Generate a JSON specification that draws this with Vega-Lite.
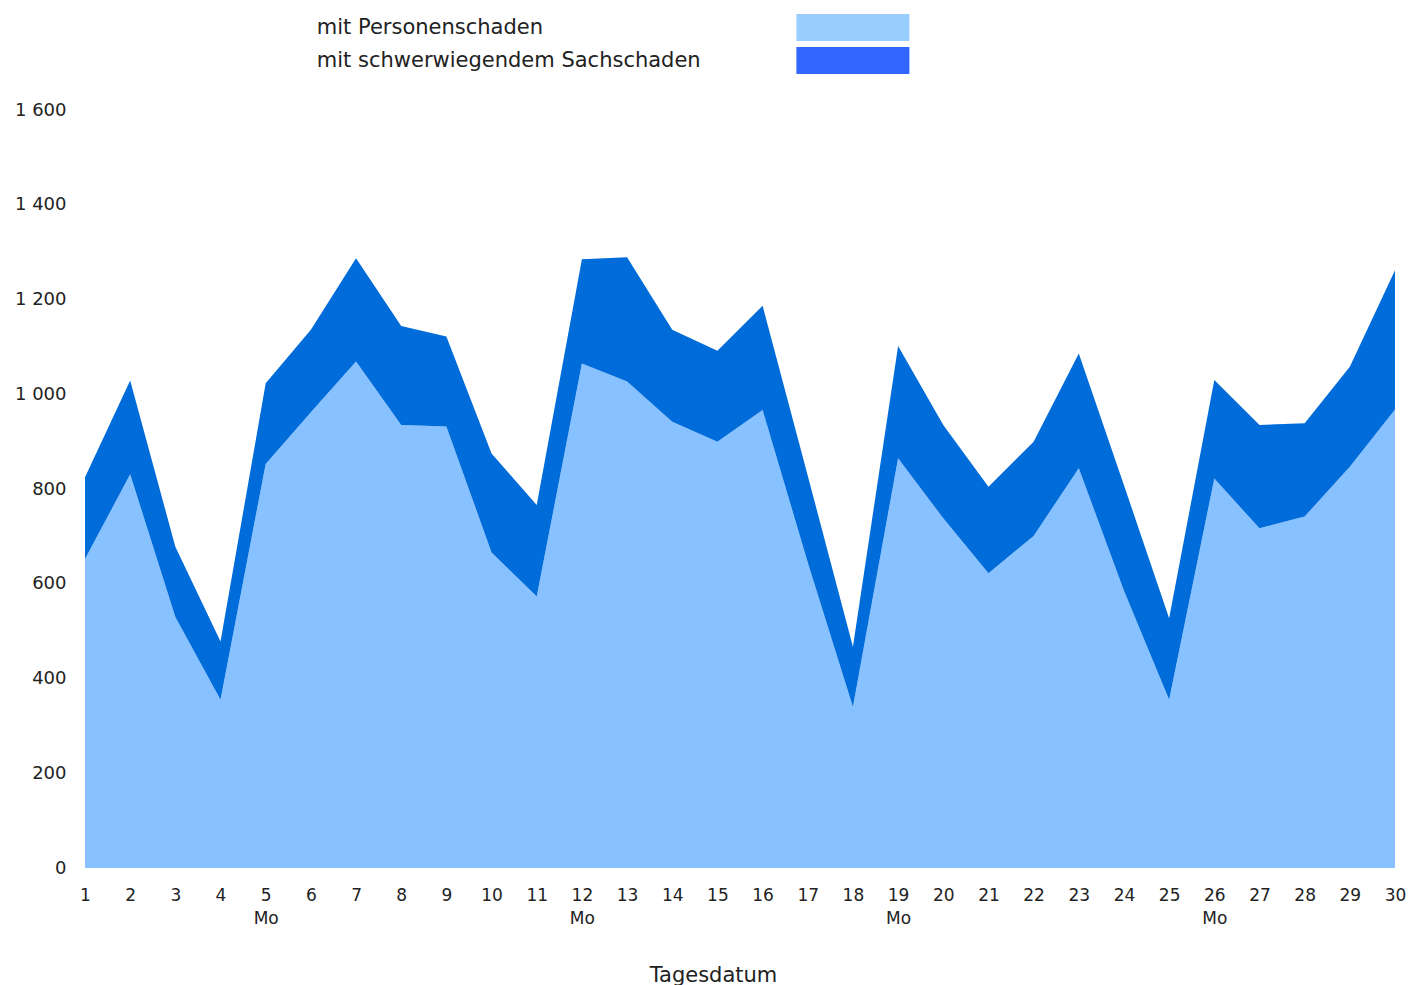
{
  "$schema": "https://vega.github.io/schema/vega-lite/v6.json",
  "autosize": {"type": "none"},
  "width": 1310,
  "height": 758,
  "padding": {"left": 85, "top": 110, "right": 15, "bottom": 117},
  "background": "white",
  "config": {"view": {"stroke": null}},
  "data": {
    "values": [
      {"tag": 1, "art": "mit Personenschaden", "ord": 1, "anzahl": 652},
      {"tag": 1, "art": "mit schwerwiegendem Sachschaden", "ord": 2, "anzahl": 173},
      {"tag": 2, "art": "mit Personenschaden", "ord": 1, "anzahl": 831},
      {"tag": 2, "art": "mit schwerwiegendem Sachschaden", "ord": 2, "anzahl": 198},
      {"tag": 3, "art": "mit Personenschaden", "ord": 1, "anzahl": 530},
      {"tag": 3, "art": "mit schwerwiegendem Sachschaden", "ord": 2, "anzahl": 148},
      {"tag": 4, "art": "mit Personenschaden", "ord": 1, "anzahl": 355},
      {"tag": 4, "art": "mit schwerwiegendem Sachschaden", "ord": 2, "anzahl": 123},
      {"tag": 5, "art": "mit Personenschaden", "ord": 1, "anzahl": 853},
      {"tag": 5, "art": "mit schwerwiegendem Sachschaden", "ord": 2, "anzahl": 170},
      {"tag": 6, "art": "mit Personenschaden", "ord": 1, "anzahl": 962},
      {"tag": 6, "art": "mit schwerwiegendem Sachschaden", "ord": 2, "anzahl": 174},
      {"tag": 7, "art": "mit Personenschaden", "ord": 1, "anzahl": 1069},
      {"tag": 7, "art": "mit schwerwiegendem Sachschaden", "ord": 2, "anzahl": 218},
      {"tag": 8, "art": "mit Personenschaden", "ord": 1, "anzahl": 935},
      {"tag": 8, "art": "mit schwerwiegendem Sachschaden", "ord": 2, "anzahl": 209},
      {"tag": 9, "art": "mit Personenschaden", "ord": 1, "anzahl": 932},
      {"tag": 9, "art": "mit schwerwiegendem Sachschaden", "ord": 2, "anzahl": 190},
      {"tag": 10, "art": "mit Personenschaden", "ord": 1, "anzahl": 666},
      {"tag": 10, "art": "mit schwerwiegendem Sachschaden", "ord": 2, "anzahl": 209},
      {"tag": 11, "art": "mit Personenschaden", "ord": 1, "anzahl": 573},
      {"tag": 11, "art": "mit schwerwiegendem Sachschaden", "ord": 2, "anzahl": 193},
      {"tag": 12, "art": "mit Personenschaden", "ord": 1, "anzahl": 1065},
      {"tag": 12, "art": "mit schwerwiegendem Sachschaden", "ord": 2, "anzahl": 220},
      {"tag": 13, "art": "mit Personenschaden", "ord": 1, "anzahl": 1027},
      {"tag": 13, "art": "mit schwerwiegendem Sachschaden", "ord": 2, "anzahl": 262},
      {"tag": 14, "art": "mit Personenschaden", "ord": 1, "anzahl": 942},
      {"tag": 14, "art": "mit schwerwiegendem Sachschaden", "ord": 2, "anzahl": 194},
      {"tag": 15, "art": "mit Personenschaden", "ord": 1, "anzahl": 900},
      {"tag": 15, "art": "mit schwerwiegendem Sachschaden", "ord": 2, "anzahl": 192},
      {"tag": 16, "art": "mit Personenschaden", "ord": 1, "anzahl": 967},
      {"tag": 16, "art": "mit schwerwiegendem Sachschaden", "ord": 2, "anzahl": 220},
      {"tag": 17, "art": "mit Personenschaden", "ord": 1, "anzahl": 645},
      {"tag": 17, "art": "mit schwerwiegendem Sachschaden", "ord": 2, "anzahl": 183},
      {"tag": 18, "art": "mit Personenschaden", "ord": 1, "anzahl": 340},
      {"tag": 18, "art": "mit schwerwiegendem Sachschaden", "ord": 2, "anzahl": 127},
      {"tag": 19, "art": "mit Personenschaden", "ord": 1, "anzahl": 865},
      {"tag": 19, "art": "mit schwerwiegendem Sachschaden", "ord": 2, "anzahl": 237},
      {"tag": 20, "art": "mit Personenschaden", "ord": 1, "anzahl": 738},
      {"tag": 20, "art": "mit schwerwiegendem Sachschaden", "ord": 2, "anzahl": 197},
      {"tag": 21, "art": "mit Personenschaden", "ord": 1, "anzahl": 622},
      {"tag": 21, "art": "mit schwerwiegendem Sachschaden", "ord": 2, "anzahl": 183},
      {"tag": 22, "art": "mit Personenschaden", "ord": 1, "anzahl": 701},
      {"tag": 22, "art": "mit schwerwiegendem Sachschaden", "ord": 2, "anzahl": 199},
      {"tag": 23, "art": "mit Personenschaden", "ord": 1, "anzahl": 844},
      {"tag": 23, "art": "mit schwerwiegendem Sachschaden", "ord": 2, "anzahl": 242},
      {"tag": 24, "art": "mit Personenschaden", "ord": 1, "anzahl": 585},
      {"tag": 24, "art": "mit schwerwiegendem Sachschaden", "ord": 2, "anzahl": 223},
      {"tag": 25, "art": "mit Personenschaden", "ord": 1, "anzahl": 355},
      {"tag": 25, "art": "mit schwerwiegendem Sachschaden", "ord": 2, "anzahl": 172},
      {"tag": 26, "art": "mit Personenschaden", "ord": 1, "anzahl": 822},
      {"tag": 26, "art": "mit schwerwiegendem Sachschaden", "ord": 2, "anzahl": 208},
      {"tag": 27, "art": "mit Personenschaden", "ord": 1, "anzahl": 717},
      {"tag": 27, "art": "mit schwerwiegendem Sachschaden", "ord": 2, "anzahl": 218},
      {"tag": 28, "art": "mit Personenschaden", "ord": 1, "anzahl": 742},
      {"tag": 28, "art": "mit schwerwiegendem Sachschaden", "ord": 2, "anzahl": 197},
      {"tag": 29, "art": "mit Personenschaden", "ord": 1, "anzahl": 847},
      {"tag": 29, "art": "mit schwerwiegendem Sachschaden", "ord": 2, "anzahl": 211},
      {"tag": 30, "art": "mit Personenschaden", "ord": 1, "anzahl": 968},
      {"tag": 30, "art": "mit schwerwiegendem Sachschaden", "ord": 2, "anzahl": 294}
    ]
  },
  "layer": [
    {
      "mark": {"type": "area", "opacity": 1, "interpolate": "linear"},
      "encoding": {
        "x": {
          "field": "tag",
          "type": "quantitative",
          "scale": {"domain": [1, 30], "nice": false, "zero": false},
          "axis": {
            "title": "Tagesdatum",
            "values": [1,2,3,4,5,6,7,8,9,10,11,12,13,14,15,16,17,18,19,20,21,22,23,24,25,26,27,28,29,30],
            "labelExpr": "indexof([5,12,19,26], datum.value) >= 0 ? [datum.label, 'Mo'] : datum.label",
            "labelFont": "DejaVu Sans",
            "labelFontSize": 17,
            "labelColor": "#222222",
            "labelLineHeight": 23,
            "labelPadding": 19,
            "labelFlush": false,
            "labelOverlap": false,
            "ticks": false,
            "domain": false,
            "grid": false,
            "titleFont": "DejaVu Sans",
            "titleFontSize": 21,
            "titleFontWeight": "normal",
            "titleColor": "#222222",
            "titleX": 628,
            "titleY": 107,
            "titleAlign": "center",
            "titleBaseline": "middle"
          }
        },
        "y": {
          "field": "anzahl",
          "type": "quantitative",
          "stack": "zero",
          "scale": {"domain": [0, 1600], "nice": false},
          "axis": {
            "title": null,
            "values": [0, 200, 400, 600, 800, 1000, 1200, 1400, 1600],
            "labelExpr": "replace(format(datum.value, ','), ',', ' ')",
            "labelFont": "DejaVu Sans",
            "labelFontSize": 18,
            "labelColor": "#222222",
            "labelPadding": 19,
            "ticks": false,
            "domain": false,
            "grid": false
          }
        },
        "color": {
          "field": "art",
          "type": "nominal",
          "scale": {"range": ["#87c1ff", "#006cd9"]},
          "legend": null
        },
        "order": {"field": "ord", "type": "quantitative"}
      }
    },
    {
      "mark": {"type": "point", "filled": true, "opacity": 0},
      "encoding": {
        "x": {"field": "tag", "type": "quantitative"},
        "fill": {
          "field": "art",
          "type": "nominal",
          "scale": {
            "domain": ["mit Personenschaden", "mit schwerwiegendem Sachschaden"],
            "range": ["#99ccff", "#3366ff"]
          },
          "legend": {
            "title": null,
            "orient": "none",
            "legendX": 753.4,
            "legendY": -97,
            "direction": "vertical",
            "padding": 0,
            "rowPadding": 4,
            "symbolType": "M-4,-0.96H4V0.96H-4Z",
            "symbolSize": 798,
            "symbolStrokeWidth": 0,
            "symbolOpacity": 1,
            "labelFont": "DejaVu Sans",
            "labelFontSize": 21,
            "labelColor": "#222222",
            "labelOffset": -550.6,
            "labelLimit": 600
          }
        }
      }
    }
  ]
}
